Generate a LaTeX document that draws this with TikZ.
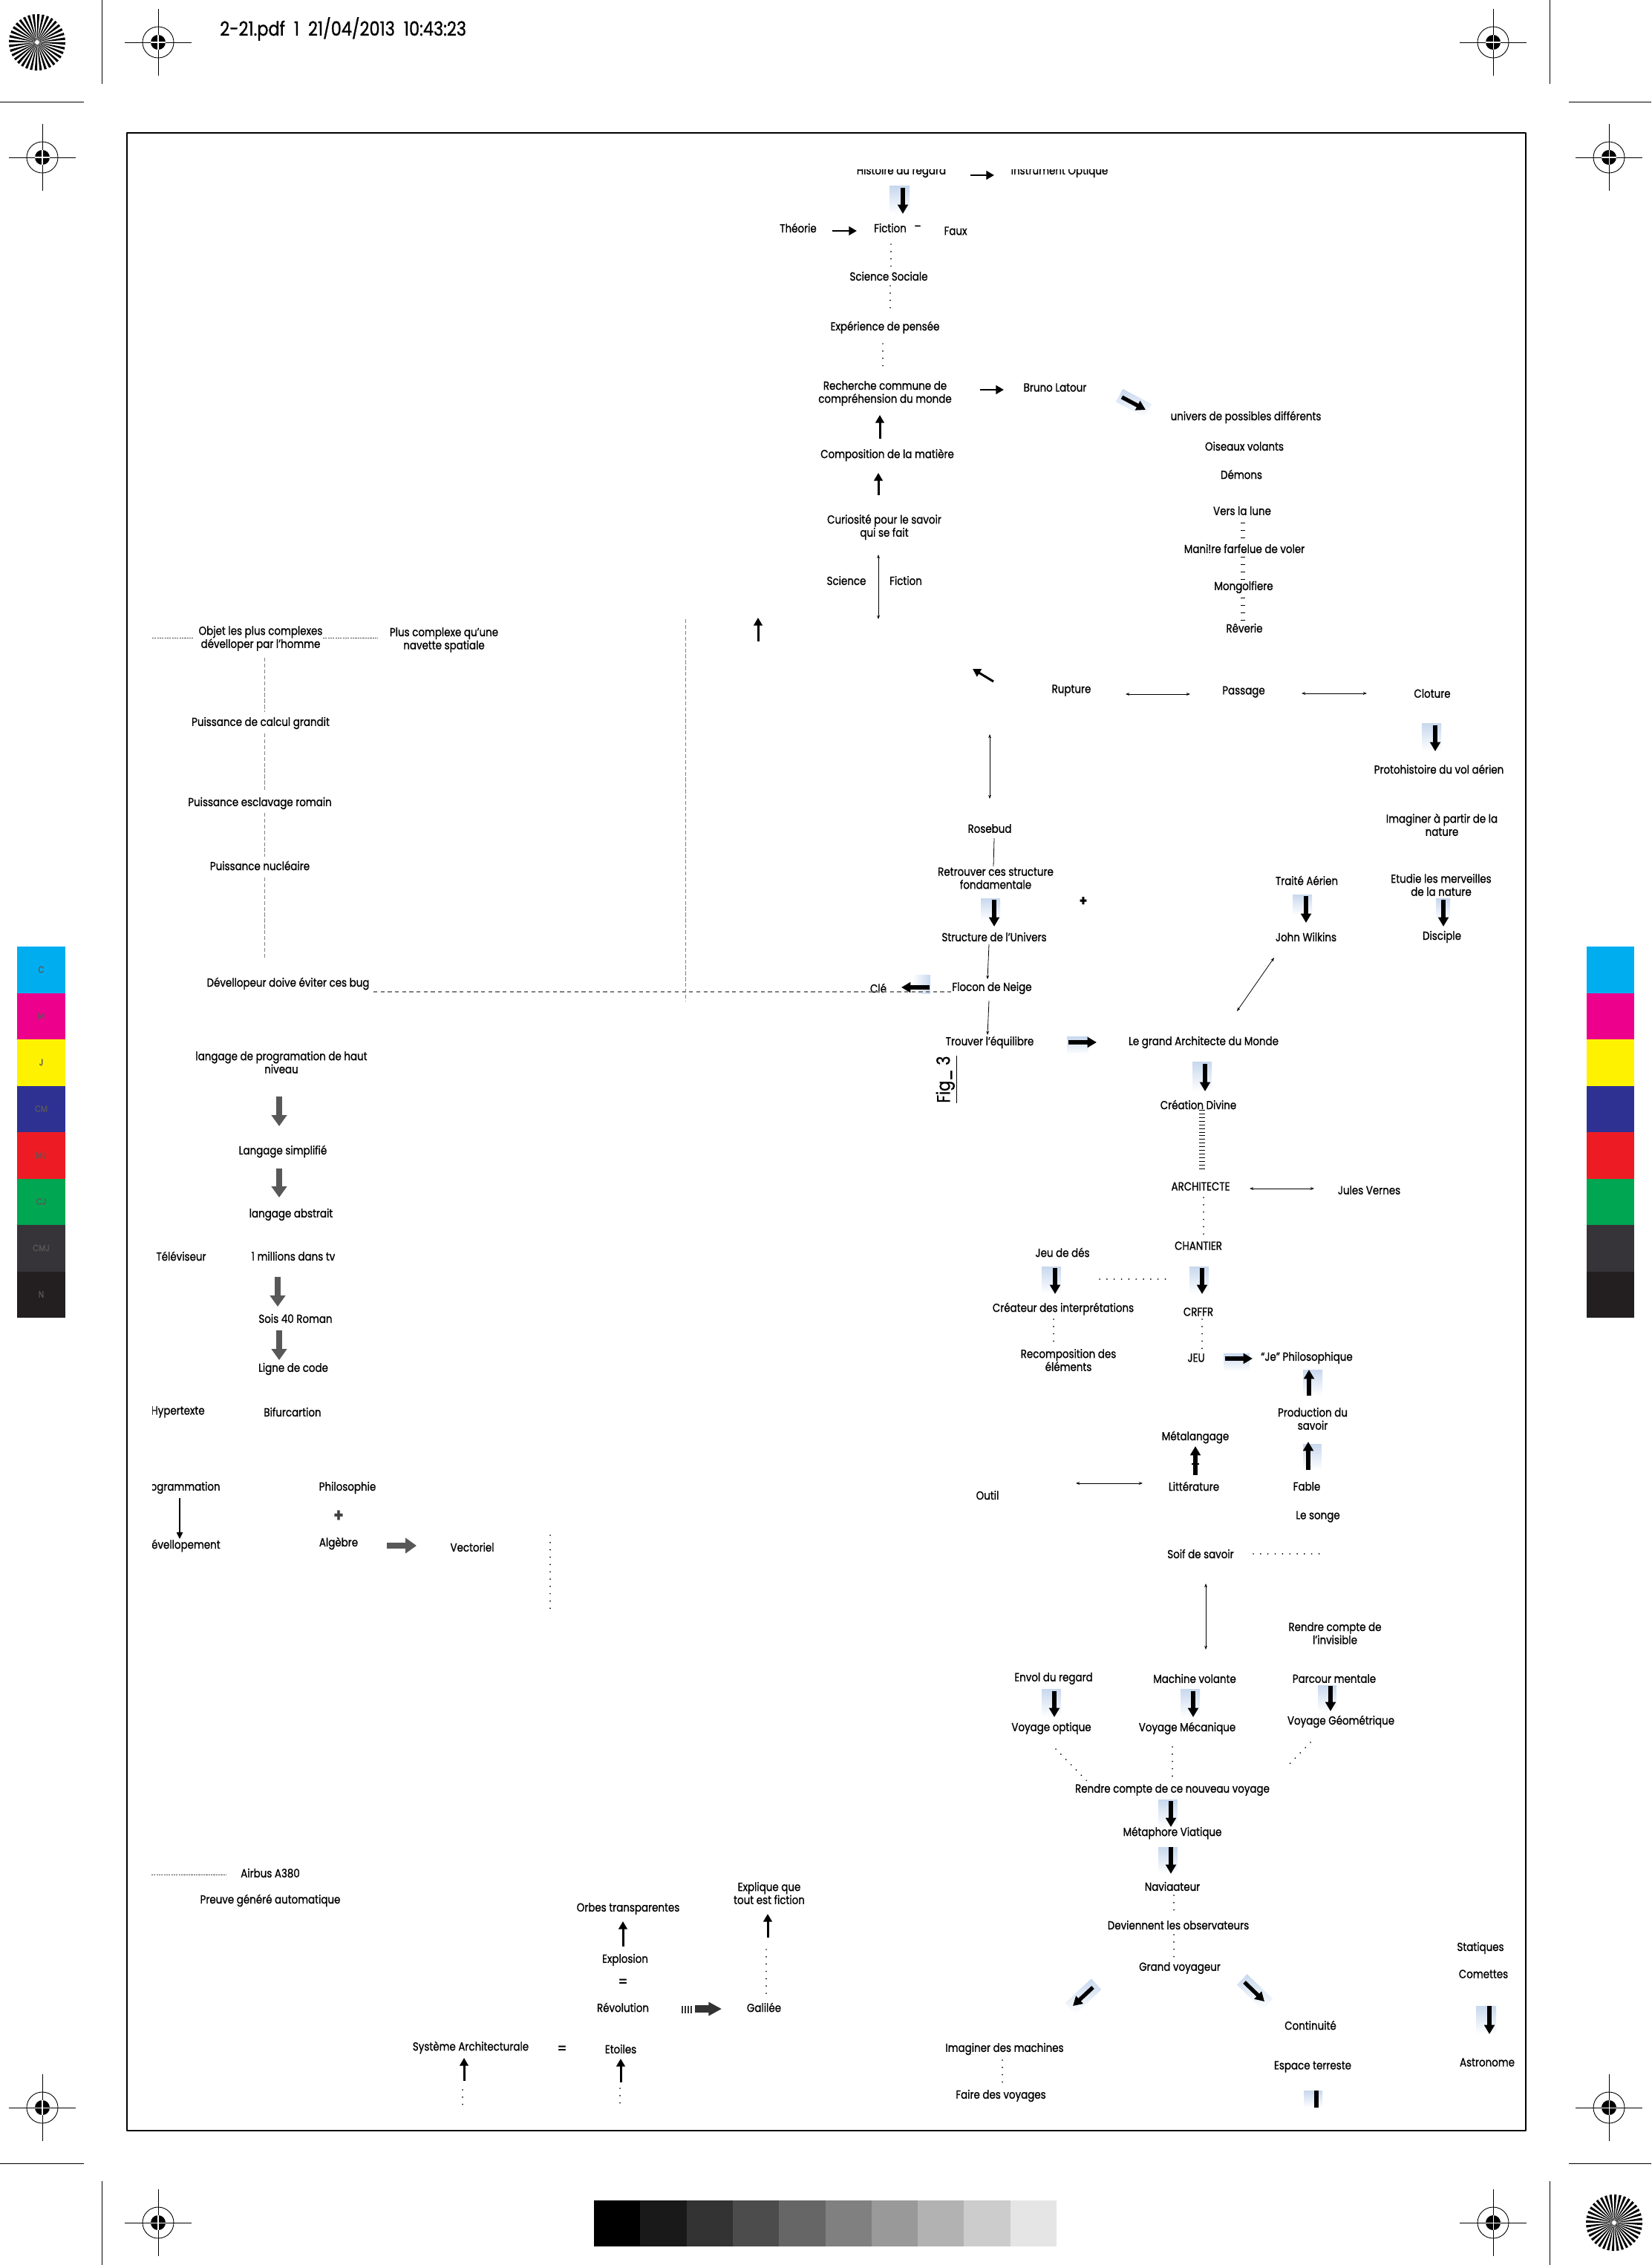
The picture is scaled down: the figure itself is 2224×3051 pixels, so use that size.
\documentclass[tikz,border=0pt]{standalone}
\usepackage{fontspec}
\setmainfont{Poppins}[FakeStretch=0.85, FakeBold=1]
\usetikzlibrary{arrows.meta,calc,positioning}

\definecolor{halo}{RGB}{200,216,238}
\definecolor{flechegris}{RGB}{88,88,88}
\definecolor{mC}{RGB}{0,174,239}
\definecolor{mM}{RGB}{236,0,140}
\definecolor{mJ}{RGB}{255,242,0}
\definecolor{mCM}{RGB}{46,49,146}
\definecolor{mMJ}{RGB}{237,28,36}
\definecolor{mCJ}{RGB}{0,166,81}
\definecolor{mCMJ}{RGB}{54,52,56}
\definecolor{mN}{RGB}{35,31,32}

\tikzset{
  lbl/.style={inner sep=0pt, align=center, font=\fontsize{9}{10}\selectfont},
  arr/.style={line width=1.7pt, -{Triangle[length=6pt,width=6.5pt]}},
  arrmince/.style={line width=1.1pt, -{Triangle[length=5pt,width=4.5pt]}},
  fat/.style={line width=3pt, -{Triangle[length=7pt,width=7.7pt]}},
  grayfat/.style={flechegris, line width=4.5pt, -{Triangle[length=8.5pt,width=11.5pt]}},
  dbl/.style={line width=0.45pt, {Stealth[length=3pt,width=2.2pt]}-{Stealth[length=3pt,width=2.2pt]}},
  fine/.style={line width=0.45pt, -{Stealth[length=3pt,width=2.2pt]}},
  dots/.style={line width=1.1pt, line cap=round, dash pattern=on 0pt off 5.6pt},
  ladder/.style={line width=3pt, dash pattern=on 0.6pt off 5pt},
  ladderfin/.style={line width=4.5pt, dash pattern=on 0.5pt off 2.3pt},
  tirets/.style={gray, line width=0.5pt, dash pattern=on 3pt off 1.5pt},
  tiretlong/.style={gray, line width=0.6pt, dash pattern=on 3pt off 2.5pt},
  pointille/.style={black!70, line width=0.5pt, dash pattern=on 1.2pt off 0.7pt},
}

\newcommand{\halo}[2]{\shade[top color=halo, bottom color=white] #1 rectangle #2;}
\newcommand{\cible}[1]{%
  \begin{scope}[shift={#1}]
    \draw[line width=0.5pt] (0,0) circle (21);
    \fill (0,0) circle (10);
    \draw[white, line width=0.6pt] (-10,0) -- (10,0) (0,-10) -- (0,10);
    \draw[line width=0.5pt] (-45,0) -- (-10,0) (10,0) -- (45,0) (0,-45) -- (0,-10) (0,10) -- (0,45);
  \end{scope}}
\newcommand{\soleil}[1]{%
  \begin{scope}[shift={#1}]
    \foreach \a in {0,10,...,350} \fill (0,0) -- (\a:38) arc[start angle=\a, end angle=\a+5, radius=38] -- cycle;
    \fill[white] (0,0) circle (3);
  \end{scope}}

\begin{document}
\begin{tikzpicture}[x=0.02cm, y=-0.02cm, line join=round]
\useasboundingbox (0,0) rectangle (2224,3051);

% reperes d'impression
\soleil{(50,57)}
\soleil{(2174,2994)}
\foreach \x/\y in {213/57, 2011/57, 57/212, 2167/212, 57/2839, 2167/2839, 213/2994, 2011/2994} {\cible{(\x,\y)}}
\draw[line width=0.5pt] (0,137) -- (113,137) (2113,137) -- (2224,137) (0,2914) -- (113,2914) (2113,2914) -- (2224,2914)
  (137,0) -- (137,113) (2087,0) -- (2087,113) (137,2938) -- (137,3051) (2087,2938) -- (2087,3051);
\node[anchor=west, inner sep=0pt, font=\fontsize{15}{15}\selectfont] (entete) at (296,39) {2-21.pdf\ \ 1\ \ 21/04/2013\ \ 10:43:23};
\foreach \lab [count=\i from 0] in {C,M,J,CM,MJ,CJ,CMJ,N} {
  \fill[m\lab] (23,1275+62.5*\i) rectangle (88,1337.5+62.5*\i);
  \fill[m\lab] (2137,1275+62.5*\i) rectangle (2201,1337.5+62.5*\i);
  \node[inner sep=0pt, font=\fontsize{7}{7}\selectfont, text=black!65] (barre\i) at (55.5,1306+62.5*\i) {\lab};
}
\foreach \k [count=\i from 0] in {100,90,...,10}
  \fill[black!\k] (800+62.3*\i,2964) rectangle (862.3+62.3*\i,3026);
\draw[line width=1.6pt] (171,179) rectangle (2055,2870);

% haut
\begin{scope}
  \clip (1000,229) rectangle (1600,262);
  \node[lbl] (hist) at (1214,231) {Histoire du regard};
  \node[lbl] (instr) at (1427,231) {Instrument Optique};
\end{scope}
\node[lbl] (theo) at (1075,307) {Théorie};
\node[lbl] (fic) at (1199,307) {Fiction};
\node[lbl] (tiret) at (1236,307) {–};
\node[lbl] (faux) at (1287,311) {Faux};
\node[lbl] (socs) at (1197,372) {Science Sociale};
\node[lbl] (exper) at (1192,441) {Expérience de pensée};
\node[lbl] (rech) at (1192,530) {Recherche commune de\\compréhension du monde};
\node[lbl] (bruno) at (1421,522) {Bruno Latour};
\node[lbl] (compo) at (1195,613) {Composition de la matière};
\node[lbl] (curio) at (1191,710) {Curiosité pour le savoir\\qui se fait};
\node[lbl] (sci) at (1140,782) {Science};
\node[lbl] (fic2) at (1220,782) {Fiction};

\draw[arr] ($(hist)+(93,5)$) -- ($(instr)+(-88,5)$);
\halo{(1198,251)}{(1225,288)}
\draw[fat] ($(hist)+(2,22)$) -- ($(fic)+(17,-19)$);
\draw[arr] ($(theo)+(46,4)$) -- ($(fic)+(-45,4)$);
\draw[dots] ($(fic)+(1,22)$) -- ($(socs)+(3,-13)$);
\draw[dots] ($(socs)+(2,13)$) -- ($(exper)+(7,-17)$);
\draw[dots] ($(exper)+(-3,22)$) -- ($(rech)+(-3,-28)$);
\draw[arr] ($(rech)+(128,-5)$) -- ($(bruno)+(-69,3)$);
\draw[arr] ($(compo)+(-10,-22)$) -- ($(rech)+(-7,29)$);
\draw[arr] ($(curio)+(-8,-43)$) -- ($(compo)+(-12,24)$);
\draw[dbl] ($(curio)+(-8,37)$) -- ($(fic2)+(-37,52)$);
\draw[arr] ($(sci)+(-119,82)$) -- ($(sci)+(-119,50)$);

% univers
\node[lbl] (univ) at (1678,562) {univers de possibles différents};
\node[lbl] (ois) at (1676,601) {Oiseaux volants};
\node[lbl] (demons) at (1672,639) {Démons};
\node[lbl] (lune) at (1673,688) {Vers la lune};
\node[lbl] (maniere) at (1676,739) {Mani!re farfelue de voler};
\node[lbl] (mongol) at (1675,791) {Mongolfiere};
\node[lbl] (reverie) at (1676,846) {Rêverie};
\shade[top color=halo, bottom color=white, rotate around={-28:(1527,543)}] (1505,533) rectangle (1549,553);
\draw[fat] ($(bruno)+(90,13)$) -- ($(univ)+(-135,-10)$);
\draw[ladder] ($(lune)+(1,16)$) -- ($(maniere)+(-2,-14)$);
\draw[ladder] ($(maniere)+(-2,11)$) -- ($(mongol)+(-1,-9)$);
\draw[ladder] ($(mongol)+(-1,14)$) -- ($(reverie)+(-2,-10)$);

% rupture
\node[lbl] (rupt) at (1443,930) {Rupture};
\node[lbl] (pass) at (1675,932) {Passage};
\node[lbl] (clot) at (1929,934) {Cloture};
\node[lbl] (proto) at (1938,1036) {Protohistoire du vol aérien};
\node[lbl] (imag) at (1942,1111) {Imaginer à partir de la\\nature};
\node[lbl] (etud) at (1941,1192) {Etudie les merveilles\\de la nature};
\node[lbl] (disc) at (1942,1262) {Disciple};
\node[lbl] (traite) at (1760,1186) {Traité Aérien};
\node[lbl] (wilk) at (1759,1262) {John Wilkins};
\draw[arr] ($(rupt)+(-105,-12)$) -- ($(rupt)+(-133,-29)$);
\draw[dbl] ($(rupt)+(73,5)$) -- ($(pass)+(-72,3)$);
\draw[dbl] ($(pass)+(78,2)$) -- ($(clot)+(-88,0)$);
\halo{(1915,974)}{(1941,1012)}
\draw[fat] ($(clot)+(4,43)$) -- ($(proto)+(-5,-24)$);
\halo{(1741,1205)}{(1767,1233)}
\draw[fat] ($(traite)+(-1,21)$) -- ($(wilk)+(0,-19)$);
\halo{(1934,1210)}{(1953,1240)}
\draw[fat] ($(etud)+(3,20)$) -- ($(disc)+(2,-14)$);

% colonne centrale
\node[lbl] (rose) at (1333,1116) {Rosebud};
\node[lbl] (retr) at (1341,1183) {Retrouver ces structure\\fondamentale};
\node[lbl, font=\bfseries\fontsize{11}{11}\selectfont] (plus1) at (1459,1214) {+};
\node[lbl] (struct) at (1339,1262) {Structure de l'Univers};
\node[lbl] (flocon) at (1336,1331) {Flocon de Neige};
\node[lbl] (cle) at (1183,1331) {Clé};
\node[lbl] (treq) at (1333,1404) {Trouver l'équilibre};
\node[lbl] (grand) at (1621,1404) {Le grand Architecte du Monde};
\node[rotate=90, inner sep=0pt, font=\fontsize{14}{14}\selectfont] (fig) at (1275,1454) {\underline{Fig\_ 3}};
\draw[dbl] ($(rose)+(0,-127)$) -- ($(rose)+(0,-40)$);
\draw[line width=0.45pt] ($(rose)+(6,13)$) -- ($(retr)+(-3,-16)$);
\halo{(1321,1210)}{(1347,1240)}
\draw[fat] ($(retr)+(-2,29)$) -- ($(struct)+(0,-14)$);
\draw[fine] ($(struct)+(-7,10)$) -- ($(flocon)+(-6,-12)$);
\draw[fine] ($(flocon)+(-4,17)$) -- ($(treq)+(-3,-10)$);
\shade[left color=white, right color=halo] (1229,1313) rectangle (1253,1338);
\draw[fat] ($(flocon)+(-84,-1)$) -- ($(cle)+(31,-1)$);
\halo{(1437,1396)}{(1466,1420)}
\draw[fat] ($(treq)+(106,0)$) -- ($(grand)+(-144,0)$);
\draw[dbl] ($(wilk)+(-43,28)$) -- ($(grand)+(45,-42)$);

% architecte
\node[lbl] (creat) at (1614,1488) {Création Divine};
\node[lbl] (archt) at (1617,1598) {ARCHITECTE};
\node[lbl] (jules) at (1844,1603) {Jules Vernes};
\node[lbl] (chant) at (1614,1678) {CHANTIER};
\node[lbl] (jeu) at (1431,1687) {Jeu de dés};
\node[lbl] (createur) at (1432,1763) {Créateur des interprétations};
\node[lbl] (creer) at (1614,1767) {CRFFR};
\node[lbl] (recomp) at (1439,1832) {Recomposition des\\éléments};
\node[lbl] (jeuc) at (1611,1829) {JEU};
\node[lbl] (jephi) at (1760,1829) {“Je” Philosophique};
\node[lbl] (prod) at (1768,1911) {Production du\\savoir};
\node[lbl] (metal) at (1610,1936) {Métalangage};
\node[lbl] (litt) at (1608,2002) {Littérature};
\node[lbl] (outil) at (1330,2014) {Outil};
\node[lbl] (fable) at (1760,2002) {Fable};
\node[lbl] (songe) at (1775,2043) {Le songe};
\node[lbl] (soif) at (1617,2093) {Soif de savoir};
\halo{(1606,1430)}{(1632,1470)}
\draw[fat] ($(grand)+(2,29)$) -- ($(creat)+(9,-18)$);
\draw[ladderfin] ($(creat)+(5,7)$) -- ($(archt)+(2,-21)$);
\draw[dbl] ($(archt)+(66,3)$) -- ($(jules)+(-74,-2)$);
\draw[dots] ($(archt)+(4,15)$) -- ($(chant)+(7,-15)$);
\halo{(1403,1706)}{(1429,1743)}
\draw[fat] ($(jeu)+(-10,21)$) -- ($(createur)+(-11,-20)$);
\halo{(1602,1706)}{(1628,1743)}
\draw[fat] ($(chant)+(5,30)$) -- ($(creer)+(5,-24)$);
\draw[dots] ($(jeu)+(50,36)$) -- ($(chant)+(-37,45)$);
\draw[dots] ($(creer)+(5,10)$) -- ($(jeuc)+(8,-12)$);
\draw[dots] ($(createur)+(-13,14)$) -- ($(recomp)+(-20,-24)$);
\halo{(1648,1823)}{(1683,1847)}
\draw[fat] ($(jeuc)+(39,1)$) -- ($(jephi)+(-73,1)$);
\halo{(1755,1845)}{(1781,1880)}
\draw[fat] ($(prod)+(-5,-31)$) -- ($(jephi)+(3,16)$);
\halo{(1755,1945)}{(1780,1980)}
\draw[fat] ($(fable)+(2,-22)$) -- ($(prod)+(-6,31)$);
\draw[fat] ($(litt)+(2,-15)$) -- ($(metal)+(0,12)$);
\draw[line width=1pt] ($(litt)+(-3,-30)$) -- ($(litt)+(7,-30)$);
\draw[dbl] ($(outil)+(119,-16)$) -- ($(litt)+(-69,-4)$);
\draw[dots] ($(soif)+(71,0)$) -- ($(soif)+(167,0)$);

% voyages
\node[lbl] (invis) at (1798,2200) {Rendre compte de\\l'invisible};
\node[lbl] (envol) at (1419,2261) {Envol du regard};
\node[lbl] (machv) at (1609,2261) {Machine volante};
\node[lbl] (parc) at (1797,2261) {Parcour mentale};
\node[lbl] (voyo) at (1416,2328) {Voyage optique};
\node[lbl] (voym) at (1599,2328) {Voyage Mécanique};
\node[lbl] (voyg) at (1806,2319) {Voyage Géométrique};
\node[lbl] (rendre) at (1579,2411) {Rendre compte de ce nouveau voyage};
\node[lbl] (meta) at (1579,2469) {Métaphore Viatique};
\node[lbl] (navi) at (1579,2541) {Naviaateur};
\node[lbl] (devi) at (1587,2593) {Deviennent les observateurs};
\node[lbl] (grandv) at (1589,2651) {Grand voyageur};
\node[lbl] (conti) at (1765,2728) {Continuité};
\node[lbl] (imam) at (1353,2760) {Imaginer des machines};
\node[lbl] (faire) at (1348,2823) {Faire des voyages};
\node[lbl] (espace) at (1768,2784) {Espace terreste};
\node[lbl] (stat) at (1994,2624) {Statiques};
\node[lbl] (comet) at (1998,2659) {Comettes};
\node[lbl] (astro) at (2003,2778) {Astronome};
\draw[dbl] ($(soif)+(7,40)$) -- ($(machv)+(15,-39)$);
\halo{(1403,2275)}{(1429,2313)}
\draw[fat] ($(envol)+(1,17)$) -- ($(voyo)+(4,-15)$);
\halo{(1590,2275)}{(1616,2313)}
\draw[fat] ($(machv)+(-2,17)$) -- ($(voym)+(8,-15)$);
\halo{(1775,2270)}{(1800,2305)}
\draw[fat] ($(parc)+(-5,10)$) -- ($(voyg)+(-14,-14)$);
\draw[dots] ($(voyo)+(6,28)$) -- ($(rendre)+(-115,-12)$);
\draw[dots] ($(voym)+(-20,25)$) -- ($(rendre)+(0,-17)$);
\draw[dots] ($(voyg)+(-41,28)$) -- ($(rendre)+(152,-29)$);
\halo{(1560,2424)}{(1586,2461)}
\draw[fat] ($(rendre)+(-2,15)$) -- ($(meta)+(-2,-8)$);
\halo{(1560,2488)}{(1586,2524)}
\draw[fat] ($(meta)+(-2,19)$) -- ($(navi)+(-2,-17)$);
\draw[dots] ($(navi)+(2,12)$) -- ($(devi)+(-6,-11)$);
\draw[dots] ($(devi)+(-6,13)$) -- ($(grandv)+(-8,-11)$);
\shade[top color=halo, bottom color=white, rotate around={43:(1459,2689)}] (1435,2679) rectangle (1483,2699);
\draw[fat] ($(grandv)+(-117,26)$) -- ($(imam)+(92,-58)$);
\shade[top color=halo, bottom color=white, rotate around={-44:(1690,2683)}] (1666,2673) rectangle (1714,2693);
\draw[fat] ($(grandv)+(87,19)$) -- ($(conti)+(-62,-32)$);
\draw[dots] ($(imam)+(-3,15)$) -- ($(faire)+(2,-9)$);
\halo{(1756,2816)}{(1781,2839)}
\draw[line width=3pt] ($(espace)+(5,32)$) -- ($(espace)+(5,55)$);
\halo{(1988,2702)}{(2015,2740)}
\draw[fat] ($(comet)+(8,43)$) -- ($(astro)+(3,-38)$);

% gauche
\node[lbl] (objet) at (351,860) {Objet les plus complexes\\dévelloper par l'homme};
\node[lbl] (plusc) at (598,862) {Plus complexe qu'une\\navette spatiale};
\node[lbl] (calcul) at (351,974) {Puissance de calcul grandit};
\node[lbl] (escl) at (350,1082) {Puissance esclavage romain};
\node[lbl] (nucl) at (350,1166) {Puissance nucléaire};
\node[lbl] (dev) at (388,1325) {Dévellopeur doive éviter ces bug};
\node[lbl] (lang) at (379,1431) {langage de programation de haut\\niveau};
\node[lbl] (simpl) at (381,1551) {Langage simplifié};
\node[lbl] (abstr) at (392,1636) {langage abstrait};
\node[lbl] (tele) at (244,1692) {Téléviseur};
\node[lbl] (milli) at (395,1692) {1 millions dans tv};
\node[lbl] (sois) at (398,1776) {Sois 40 Roman};
\node[lbl] (ligne) at (395,1844) {Ligne de code};
\node[lbl] (bifur) at (394,1902) {Bifurcartion};
\begin{scope}
  \clip (205,1880) rectangle (330,2100);
  \node[lbl, anchor=east] (hyper) at (276,1902) {Hypertexte};
  \node[lbl, anchor=east] (prog) at (297,2004) {Programmation};
  \node[lbl, anchor=east] (devel) at (297,2082) {Dévellopement};
\end{scope}
\node[lbl] (philo) at (468,2004) {Philosophie};
\node[lbl, font=\bfseries\fontsize{14}{14}\selectfont, text=black!75] (plus2) at (456,2042) {+};
\node[lbl] (alg) at (456,2079) {Algèbre};
\node[lbl] (vect) at (636,2084) {Vectoriel};
\node[lbl] (airbus) at (364,2523) {Airbus A380};
\node[lbl] (preuve) at (364,2560) {Preuve généré automatique};
\draw[pointille] ($(objet)+(-146,-1)$) -- ($(objet)+(-91,-1)$);
\draw[pointille] ($(objet)+(84,-1)$) -- ($(plusc)+(-89,-3)$);
\draw[tirets] ($(objet)+(5,26)$) -- ($(calcul)+(5,-15)$);
\draw[tirets] ($(calcul)+(5,14)$) -- ($(escl)+(6,-16)$);
\draw[tirets] ($(escl)+(6,13)$) -- ($(nucl)+(6,-12)$);
\draw[tirets] ($(nucl)+(6,16)$) -- ($(dev)+(-32,-34)$);
\draw[tirets] ($(plusc)+(325,-28)$) -- ($(dev)+(535,24)$);
\draw[tiretlong] ($(dev)+(115,11)$) -- ($(flocon)+(-54,5)$);
\draw[grayfat] ($(lang)+(-3,46)$) -- ($(simpl)+(-5,-34)$);
\draw[grayfat] ($(simpl)+(-5,23)$) -- ($(abstr)+(-16,-23)$);
\draw[grayfat] ($(milli)+(-21,28)$) -- ($(sois)+(-24,-16)$);
\draw[grayfat] ($(sois)+(-22,16)$) -- ($(ligne)+(-19,-12)$);
\draw[arrmince] ($(prog.east)+(-55,14)$) -- ($(devel.east)+(-55,-9)$);
\draw[grayfat] ($(alg)+(65,3)$) -- ($(vect)+(-75,-2)$);
\draw[dots] ($(vect)+(105,-16)$) -- ($(vect)+(105,89)$);
\draw[pointille] ($(airbus)+(-160,2)$) -- ($(airbus)+(-59,2)$);

% bas
\node[lbl] (orbes) at (846,2571) {Orbes transparentes};
\node[lbl] (explo) at (842,2640) {Explosion};
\node[lbl, font=\fontsize{12}{12}\selectfont] (eq1) at (839,2671) {=};
\node[lbl] (revol) at (839,2704) {Révolution};
\node[lbl] (gali) at (1029,2704) {Galilée};
\node[lbl] (expl) at (1036,2550) {Explique que\\tout est fiction};
\node[lbl] (syst) at (634,2758) {Système Architecturale};
\node[lbl, font=\fontsize{12}{12}\selectfont] (eq2) at (757,2761) {=};
\node[lbl] (etoil) at (836,2760) {Etoiles};
\draw[arr] ($(explo)+(-3,-18)$) -- ($(orbes)+(-7,17)$);
\foreach \d in {0,4,8,12}
  \draw[line width=1pt, black!80] ($(revol)+(80+\d,-2)$) -- ($(revol)+(80+\d,8)$);
\draw[black!80, line width=5.5pt, -{Triangle[length=10pt,width=10pt]}] ($(revol)+(97,2)$) -- ($(gali)+(-57,2)$);
\draw[dots] ($(gali)+(3,-19)$) -- ($(expl)+(-4,68)$);
\draw[arr] ($(gali)+(5,-94)$) -- ($(expl)+(-2,28)$);
\draw[arr] ($(syst)+(-9,45)$) -- ($(syst)+(-9,14)$);
\draw[dots] ($(syst)+(-11,57)$) -- ($(syst)+(-11,79)$);
\draw[arr] ($(etoil)+(0,45)$) -- ($(etoil)+(0,13)$);
\draw[dots] ($(etoil)+(-1,53)$) -- ($(etoil)+(-1,75)$);
\end{tikzpicture}
\end{document}
